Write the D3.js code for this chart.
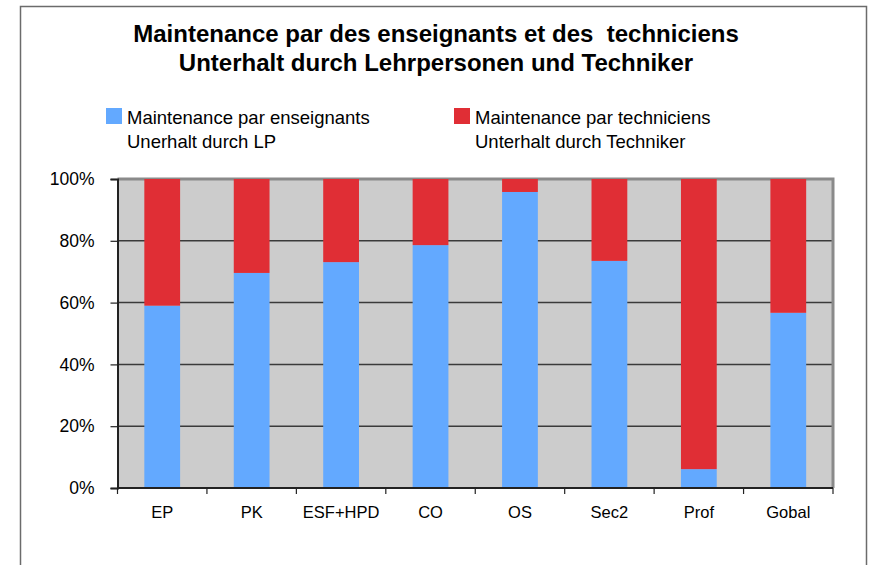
<!DOCTYPE html>
<html>
<head>
<meta charset="utf-8">
<script src="https://cdn.jsdelivr.net/npm/d3@7"></script>
<style>
body { margin: 0; background: #fff; }
text { font-family: Arial, "Liberation Sans", sans-serif; }
</style>
</head>
<body>
<script>
var w = 872;
var h = 565;

var categories = ["EP", "PK", "ESF+HPD", "CO", "OS", "Sec2", "Prof", "Gobal"];
// share of maintenance done by teachers (rest = technicians)
var teachers = [0.59, 0.696, 0.731, 0.786, 0.958, 0.735, 0.061, 0.567];
var technicians = teachers.map(function (v) { return 1 - v; });
var yTicks = [0, 0.2, 0.4, 0.6, 0.8, 1];
var seriesNames = [
    ["Maintenance par enseignants", "Unerhalt durch LP"],
    ["Maintenance par techniciens", "Unterhalt durch Techniker"]
];
var colors = ["#63a9ff", "#e02e35"];

var svg = d3.select("body")
            .append("svg")
            .attr("width", w)
            .attr("height", h);

// outer frame
svg.append("rect")
    .attr("x", 20.5).attr("y", 6.5)
    .attr("width", 846).attr("height", 600)
    .attr("fill", "#fff")
    .attr("stroke", "#6b6b6b")
    .attr("stroke-width", 1.5);

// title
var title = svg.append("text")
    .attr("text-anchor", "middle")
    .attr("font-weight", "bold")
    .attr("font-size", "24px")
    .attr("fill", "#000");
title.append("tspan").attr("x", 436).attr("y", 42)
    .text("Maintenance par des enseignants et des \u00a0techniciens");
title.append("tspan").attr("x", 436).attr("y", 71)
    .text("Unterhalt durch Lehrpersonen und Techniker");

// legend
var legendX = [106, 454];
seriesNames.forEach(function (names, i) {
    var g = svg.append("g");
    g.append("rect")
        .attr("x", legendX[i]).attr("y", 108)
        .attr("width", 16).attr("height", 16)
        .attr("fill", colors[i]);
    g.selectAll("text")
        .data(names)
        .enter().append("text")
            .attr("x", legendX[i] + 21)
            .attr("y", function (d, j) { return 124 + j * 24; })
            .attr("font-size", "18.5px")
            .attr("fill", "#000")
            .text(function (d) { return d; });
});

// plot area
var pLeft = 117.5, pRight = 833, pTop = 179, pBottom = 488;

var x = d3.scaleBand()
    .domain(categories)
    .range([pLeft, pRight])
    .paddingInner(0.6)
    .paddingOuter(0.3);

var y = d3.scaleLinear()
    .domain([0, 1])
    .range([pBottom, pTop]);

svg.append("rect")
    .attr("x", pLeft).attr("y", pTop)
    .attr("width", pRight - pLeft).attr("height", pBottom - pTop)
    .attr("fill", "#cccccc");

// gridlines
svg.selectAll("line.grid")
    .data(yTicks.slice(1, -1))
    .enter().append("line")
        .attr("class", "grid")
        .attr("x1", pLeft).attr("x2", pRight)
        .attr("y1", function (d) { return y(d); })
        .attr("y2", function (d) { return y(d); })
        .attr("stroke", "#3a3a3a")
        .attr("stroke-width", 1.5);

// frame top and right
svg.append("path")
    .attr("d", "M" + pLeft + "," + pTop + "H" + pRight + "V" + pBottom)
    .attr("fill", "none")
    .attr("stroke", "#8a8a8a")
    .attr("stroke-width", 3);

// stacked bars
var stack = categories.map(function (c, i) {
    return { cat: c, a: teachers[i], b: technicians[i] };
});

svg.selectAll("rect.teach")
    .data(stack)
    .enter().append("rect")
        .attr("class", "teach")
        .attr("x", function (d) { return x(d.cat); })
        .attr("width", x.bandwidth())
        .attr("y", function (d) { return y(d.a); })
        .attr("height", function (d) { return y(0) - y(d.a); })
        .attr("fill", colors[0]);

svg.selectAll("rect.tech")
    .data(stack)
    .enter().append("rect")
        .attr("class", "tech")
        .attr("x", function (d) { return x(d.cat); })
        .attr("width", x.bandwidth())
        .attr("y", function (d) { return y(d.a + d.b); })
        .attr("height", function (d) { return y(d.a) - y(d.a + d.b); })
        .attr("fill", colors[1]);

// y axis
var yAxis = d3.axisLeft(y)
    .tickValues(yTicks)
    .tickFormat(d3.format(".0%"))
    .tickSize(7)
    .tickPadding(16);

var ya = svg.append("g")
    .attr("transform", "translate(" + pLeft + ",0)")
    .call(yAxis);
ya.select(".domain").attr("stroke", "#222").attr("stroke-width", 2);
ya.selectAll(".tick line").attr("stroke", "#222").attr("stroke-width", 1.2);
ya.selectAll(".tick text")
    .attr("font-size", "17.5px")
    .attr("fill", "#000")
    .attr("font-family", "Arial, 'Liberation Sans', sans-serif");

// x axis: ticks between categories
var boundaries = d3.range(categories.length + 1).map(function (i) {
    return pLeft + i * x.step();
});
svg.append("line")
    .attr("x1", pLeft).attr("x2", pRight)
    .attr("y1", pBottom).attr("y2", pBottom)
    .attr("stroke", "#222").attr("stroke-width", 2);
svg.selectAll("line.xtick")
    .data(boundaries)
    .enter().append("line")
        .attr("class", "xtick")
        .attr("x1", function (d) { return d; })
        .attr("x2", function (d) { return d; })
        .attr("y1", pBottom).attr("y2", pBottom + 6)
        .attr("stroke", "#222").attr("stroke-width", 1.2);

svg.selectAll("text.xlabel")
    .data(categories)
    .enter().append("text")
        .attr("class", "xlabel")
        .attr("x", function (d) { return x(d) + x.bandwidth() / 2; })
        .attr("y", 518)
        .attr("text-anchor", "middle")
        .attr("font-size", "16.5px")
        .attr("fill", "#000")
        .text(function (d) { return d; });
</script>
</body>
</html>
